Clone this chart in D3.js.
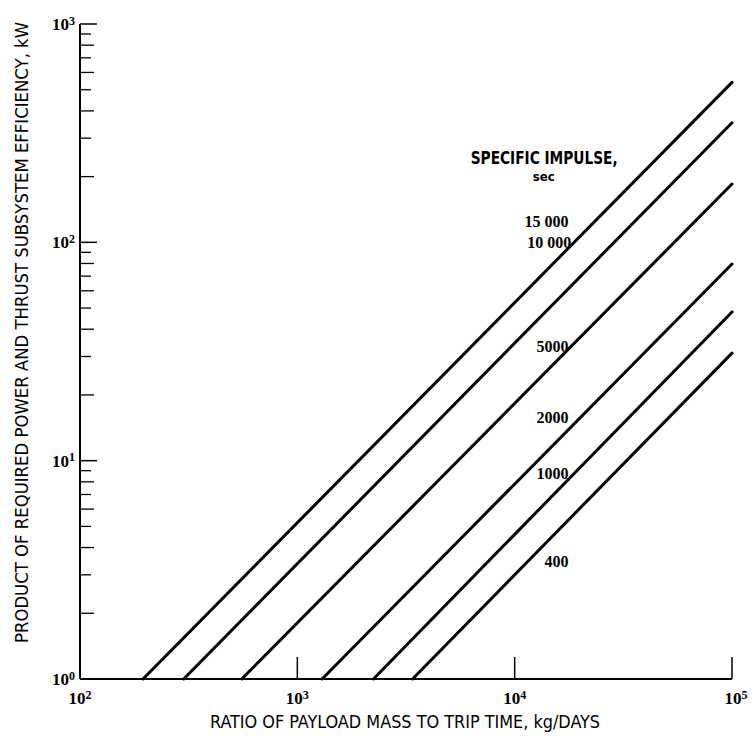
<!DOCTYPE html>
<html><head><meta charset="UTF-8">
<style>
body { margin: 0; background: #fff; }
.line { fill: none; stroke: #000; stroke-width: 3px; stroke-linecap: round; }
.lab { font-family: "Liberation Sans Narrow", "DejaVu Sans Condensed", "DejaVu Sans", sans-serif; fill: #000; }
.num { font-family: "Liberation Serif", "DejaVu Serif", serif; fill: #000; }
</style>
</head>
<body>
<svg width="754" height="736"></svg>
<script src="https://cdn.jsdelivr.net/npm/d3@7"></script>
<script>

// specific impulse, sec
var impulse = ["15 000", "10 000", "5000", "2000", "1000", "400"];
// ratio (kg/days) where each line leaves the 10^0 kW floor
var startRatio = [195, 300, 555, 1300, 2240, 3390];
// product (kW) where each line reaches ratio 10^5
var endProduct = [540, 353, 185, 79.6, 48, 31.1];
// label anchor points (ratio, product)
var labelRatio = [17700, 18200, 17700, 17700, 17700, 17700];
var labelProduct = [118, 94, 31.5, 14.9, 8.2, 3.26];

var xTicks = [100, 1000, 10000, 100000];
var yTicks = [1, 10, 100, 1000];

var svg = d3.select("svg"),
    margin = {top: 24, right: 22, bottom: 57, left: 80},
    width = 732 - margin.left,
    height = 679 - margin.top,
    g = svg.append("g").attr("transform", "translate(" + margin.left + "," + margin.top + ")");

var x = d3.scaleLog().domain([1e2, 1e5]).range([0, width]),
    y = d3.scaleLog().domain([1, 1e3]).range([height, 0]);

var series = impulse.map(function(d, i) {
  return { id: d, values: [[startRatio[i], 1], [1e5, endProduct[i]]] };
});

var line = d3.line()
    .x(function(d) { return x(d[0]); })
    .y(function(d) { return y(d[1]); });

// y axis: line plus inward minor ticks
var minor = [];
[1, 10, 100].forEach(function(dec) {
  for (var k = 2; k <= 9; k++) minor.push(dec * k);
});

var yAxis = g.append("g");
yAxis.append("line").attr("x1", 0).attr("x2", 0).attr("y1", 0).attr("y2", height)
    .attr("stroke", "#000").attr("stroke-width", 2);
yAxis.selectAll(".ym").data(minor).enter().append("line")
    .attr("x1", 0).attr("x2", function(d, i) { return (i % 2) ? 11 : 14; })
    .attr("y1", function(d) { return y(d); }).attr("y2", function(d) { return y(d); })
    .attr("stroke", "#000").attr("stroke-width", 1.3);
yAxis.selectAll(".yM").data([10, 100, 1000]).enter().append("line")
    .attr("x1", 0).attr("x2", 17)
    .attr("y1", function(d) { return y(d); }).attr("y2", function(d) { return y(d); })
    .attr("stroke", "#000").attr("stroke-width", 1.5);

function pow(sel, e) {
  sel.append("tspan").text("10");
  sel.append("tspan").attr("dy", "-0.45em").style("font-size", "12px").text(e);
}

yAxis.selectAll(".yl").data(yTicks).enter().append("text")
    .attr("class", "num")
    .attr("x", -5).attr("y", function(d) { return y(d) + 6; })
    .attr("text-anchor", "end")
    .style("font-size", "17px").style("font-weight", "bold")
    .each(function(d) { pow(d3.select(this), Math.round(Math.log10(d))); });

// x axis: line plus upward major ticks
var xAxis = g.append("g").attr("transform", "translate(0," + height + ")");
xAxis.append("line").attr("x1", 0).attr("x2", width).attr("y1", 0).attr("y2", 0)
    .attr("stroke", "#000").attr("stroke-width", 2);
xAxis.selectAll(".xt").data(xTicks.slice(1)).enter().append("line")
    .attr("x1", function(d) { return x(d); }).attr("x2", function(d) { return x(d); })
    .attr("y1", 0).attr("y2", -22)
    .attr("stroke", "#000").attr("stroke-width", 1.5);
xAxis.selectAll(".xl").data(xTicks).enter().append("text")
    .attr("class", "num")
    .attr("x", function(d, i) { return x(d) + (i === 3 ? 4 : 0); }).attr("y", 25)
    .attr("text-anchor", "middle")
    .style("font-size", "17px").style("font-weight", "bold")
    .each(function(d) { pow(d3.select(this), Math.round(Math.log10(d))); });

// curves
g.selectAll(".line").data(series).enter().append("path")
    .attr("class", "line")
    .attr("d", function(d) { return line(d.values); });

// curve labels
g.selectAll(".cl").data(impulse).enter().append("text")
    .attr("class", "num")
    .attr("x", function(d, i) { return x(labelRatio[i]); })
    .attr("y", function(d, i) { return y(labelProduct[i]); })
    .attr("text-anchor", "end")
    .style("font-size", "16px").style("font-weight", "bold")
    .text(function(d) { return d; });

g.append("text").attr("class", "lab")
    .attr("x", x(13600) - 73).attr("y", y(228))
    .attr("textLength", 147).attr("lengthAdjust", "spacingAndGlyphs")
    .style("font-size", "18px").style("font-weight", "bold")
    .text("SPECIFIC IMPULSE,");
g.append("text").attr("class", "lab")
    .attr("x", x(13600) - 11).attr("y", y(190))
    .attr("textLength", 22).attr("lengthAdjust", "spacingAndGlyphs")
    .style("font-size", "12px").style("font-weight", "bold")
    .text("sec");

// axis titles
svg.append("text").attr("class", "lab")
    .attr("x", 210).attr("y", 728)
    .attr("textLength", 390).attr("lengthAdjust", "spacingAndGlyphs")
    .style("font-size", "18px")
    .text("RATIO OF PAYLOAD MASS TO TRIP TIME, kg/DAYS");

svg.append("text").attr("class", "lab")
    .attr("transform", "translate(28,643) rotate(-90)")
    .attr("textLength", 621).attr("lengthAdjust", "spacingAndGlyphs")
    .style("font-size", "18px")
    .text("PRODUCT OF REQUIRED POWER AND THRUST SUBSYSTEM EFFICIENCY, kW");

</script>
</body></html>
